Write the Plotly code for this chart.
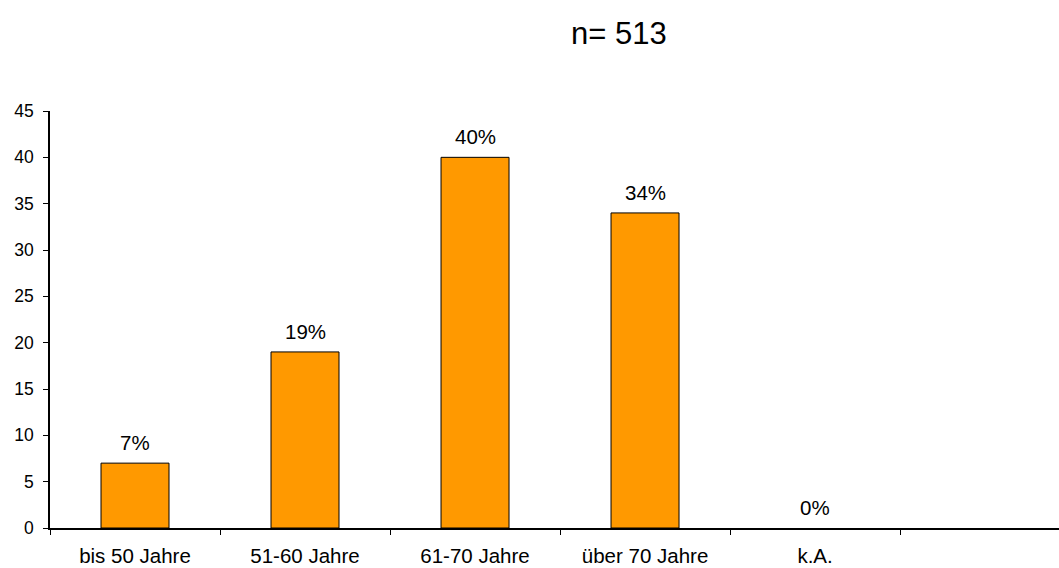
import plotly.graph_objects as go

categories = ["bis 50 Jahre", "51-60 Jahre", "61-70 Jahre", "über 70 Jahre", "k.A.", " "]
values = [7, 19, 40, 34, 0, None]
labels = ["7%", "19%", "40%", "34%", "0%", ""]
y_ticks = [0, 5, 10, 15, 20, 25, 30, 35, 40, 45]
title_text = "n= 513"

FONT = "Liberation Sans, Arial, sans-serif"

fig = go.Figure()
fig.add_trace(go.Bar(
    x=categories, y=values, width=0.4,
    marker=dict(color="#FF9900",
                line=dict(color="black", width=[1 if v else 0 for v in values])),
    hoverinfo="skip",
))

for c, v, t in zip(categories, values, labels):
    if t:
        fig.add_annotation(x=c, y=v, text=t, showarrow=False, yanchor="bottom",
                           yshift=7, font=dict(family=FONT, size=20.5, color="black"))

fig.add_annotation(xref="paper", yref="paper", x=0.564, y=1.0, yshift=78,
                   text=title_text, showarrow=False, xanchor="center", yanchor="middle",
                   font=dict(family=FONT, size=31, color="black"))

fig.update_layout(
    width=1059, height=568,
    margin=dict(l=50, r=0, t=111, b=40),
    paper_bgcolor="white", plot_bgcolor="white",
    showlegend=False,
    font=dict(family=FONT, size=17, color="black"),
    xaxis=dict(type="category", range=[-0.5, 5.435], showline=True, linecolor="black",
               linewidth=1.5, ticks="outside", tickson="boundaries", ticklen=5,
               tickcolor="black", showgrid=False, zeroline=False, ticklabelstandoff=9,
               tickfont=dict(family=FONT, size=20.5)),
    yaxis=dict(range=[0, 45], tickvals=y_ticks, showline=True, linecolor="black",
               linewidth=1.5, ticks="outside", ticklen=5, tickcolor="black",
               showgrid=False, zeroline=False, ticklabelstandoff=6,
               tickfont=dict(family=FONT, size=17.5)),
)

fig.write_html("out.html")
